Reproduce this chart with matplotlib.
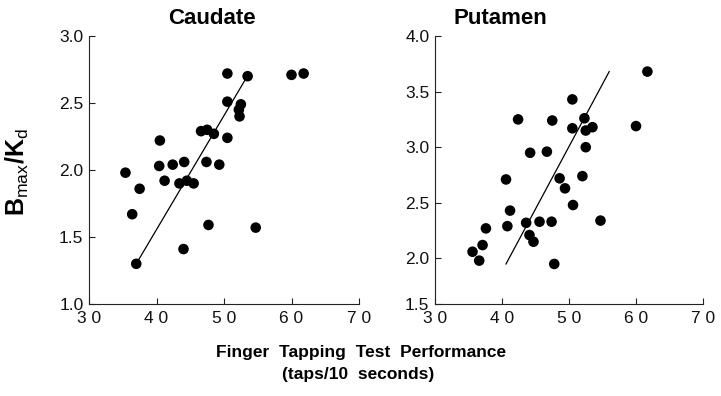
import numpy as np
import matplotlib.pyplot as plt

plt.rcParams['font.family'] = ['Liberation Sans', 'DejaVu Sans']
plt.rcParams['mathtext.fontset'] = 'custom'
plt.rcParams['mathtext.rm'] = 'Liberation Sans'
plt.rcParams['mathtext.bf'] = 'Liberation Sans:bold'

# Caudate: finger tapping vs Bmax/Kd
caud_x = [35.4, 36.4, 37.5, 37.0, 40.5, 40.4, 41.2, 42.4, 44.1, 43.4, 44.5, 45.5,
          44.0, 46.6, 47.5, 48.5, 47.4, 49.3, 47.7, 50.5, 50.5, 50.5, 52.5, 52.2,
          52.3, 53.5, 54.7, 60.0, 61.8]
caud_y = [1.98, 1.67, 1.86, 1.30, 2.22, 2.03, 1.92, 2.04, 2.06, 1.90, 1.92, 1.90,
          1.41, 2.29, 2.30, 2.27, 2.06, 2.04, 1.59, 2.72, 2.51, 2.24, 2.49, 2.45,
          2.40, 2.70, 1.57, 2.71, 2.72]
caud_fit_x = [37.0, 53.1]
caud_fit_y = [1.30, 2.67]

# Putamen
put_x = [35.6, 36.6, 37.1, 37.6, 40.6, 41.2, 40.8, 42.4, 43.6, 44.2, 44.1, 44.7,
         45.6, 46.7, 47.5, 47.4, 47.8, 48.6, 49.4, 50.5, 50.5, 50.6, 52.0, 52.3,
         52.5, 52.5, 53.5, 54.7, 60.0, 61.7]
put_y = [2.06, 1.98, 2.12, 2.27, 2.71, 2.43, 2.29, 3.25, 2.32, 2.95, 2.21, 2.15,
         2.33, 2.96, 3.24, 2.33, 1.95, 2.72, 2.63, 3.43, 3.17, 2.48, 2.74, 3.26,
         3.15, 3.00, 3.18, 2.34, 3.19, 3.68]
put_fit_x = [40.6, 56.0]
put_fit_y = [1.95, 3.68]

x_ticks = [30, 40, 50, 60, 70]
x_labels = ['3 0', '4 0', '5 0', '6 0', '7 0']
caud_yticks = [1.0, 1.5, 2.0, 2.5, 3.0]
caud_ylabels = ['1.0', '1.5', '2.0', '2.5', '3.0']
put_yticks = [1.59, 2.0, 2.5, 3.0, 3.5, 4.0]
put_ylabels = ['1.5', '2.0', '2.5', '3.0', '3.5', '4.0']

fig = plt.figure(figsize=(7.21, 3.96), dpi=100)
ax1 = fig.add_axes([89/721, 92/396, 270/721, 268/396])
ax2 = fig.add_axes([435/721, 92/396, 268/721, 268/396])

panels = [
    (ax1, caud_x, caud_y, caud_fit_x, caud_fit_y, (1.0, 3.0), caud_yticks, caud_ylabels),
    (ax2, put_x, put_y, put_fit_x, put_fit_y, (1.59, 4.0), put_yticks, put_ylabels),
]

for ax, xs, ys, fx, fy, ylim, yt, ylab in panels:
    ax.scatter(xs, ys, s=58, color='black', edgecolors='none', zorder=3)
    ax.plot(fx, fy, color='black', lw=0.9)
    ax.set_xlim(30, 70)
    ax.set_ylim(*ylim)
    ax.set_xticks(x_ticks)
    ax.set_xticklabels(x_labels)
    ax.set_yticks(yt)
    ax.set_yticklabels(ylab)
    for s in ['top', 'right']:
        ax.spines[s].set_visible(False)
    for s in ['left', 'bottom']:
        ax.spines[s].set_linewidth(0.8)
        ax.spines[s].set_color('#222222')
    ax.tick_params(direction='in', length=4, width=0.8,
                   colors='#222222', labelcolor='#111111')
    ax.tick_params(axis='x', pad=5, labelsize=12.5)
    ax.tick_params(axis='y', pad=4, labelsize=12.5)

fig.text(212/721, 1 - 18/396, 'Caudate', ha='center', va='center',
         fontsize=16, fontweight='bold')
fig.text(500/721, 1 - 18/396, 'Putamen', ha='center', va='center',
         fontsize=16, fontweight='bold')

fig.text(17/721, 1 - 172/396, r'B$_{\mathrm{max}}$/K$_{\mathrm{d}}$',
         rotation=90, ha='center', va='center', fontsize=18, fontweight='bold')

fig.text(361/721, 1 - 353/396, 'Finger  Tapping  Test  Performance',
         ha='center', va='center', fontsize=12.5, fontweight='bold')
fig.text(358/721, 1 - 375/396, '(taps/10  seconds)',
         ha='center', va='center', fontsize=12.5, fontweight='bold')

fig.savefig('out.png', dpi=100)
